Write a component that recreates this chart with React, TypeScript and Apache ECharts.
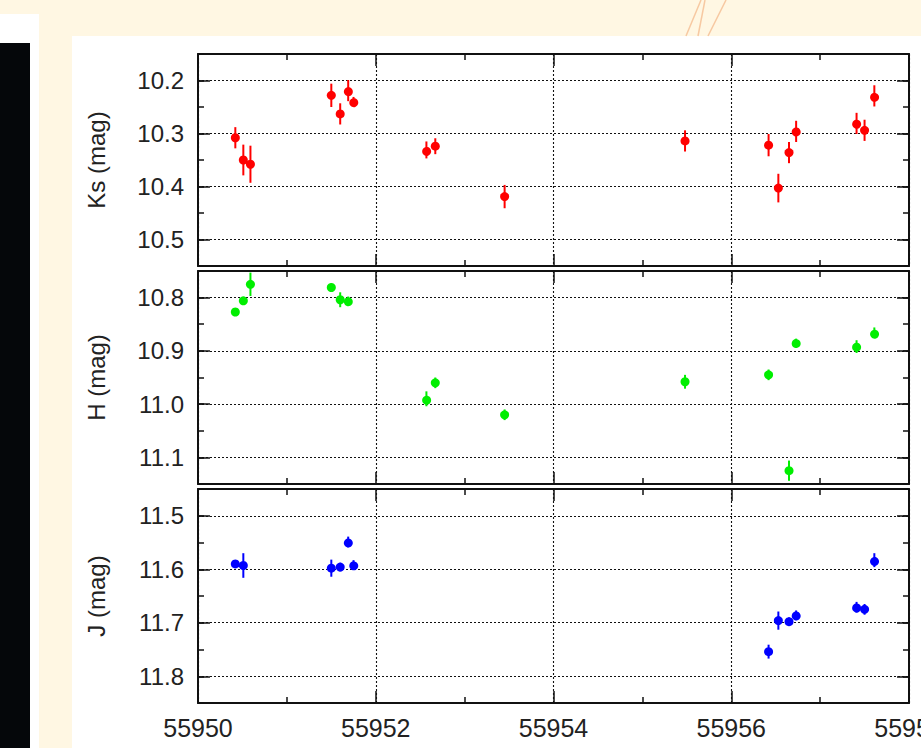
import React, { useEffect, useRef } from "react";
import * as echarts from "echarts";

// Observation epochs (MJD)
const times = [
  55950.42, 55950.51, 55950.59, 55951.5, 55951.6, 55951.69, 55951.75, 55952.57, 55952.67,
  55953.45, 55955.48, 55956.42, 55956.53, 55956.65, 55956.73, 55957.41, 55957.5, 55957.61,
];

const ksMag = [
  10.308, 10.35, 10.358, 10.228, 10.263, 10.219, 10.239, 10.331, 10.324,
  10.419, 10.314, 10.322, 10.403, 10.336, 10.296, 10.281, 10.294, 10.229,
];
const ksErr = [
  0.02, 0.029, 0.035, 0.022, 0.02, 0.02, 0.008, 0.016, 0.015,
  0.022, 0.02, 0.021, 0.027, 0.02, 0.02, 0.02, 0.02, 0.02,
];

const hMag = [
  10.827, 10.806, 10.775, 10.781, 10.804, 10.806, null, 10.99, 10.96,
  11.02, 10.958, 10.945, null, 11.125, 10.885, 10.892, null, 10.866,
];
const hErr = [
  0.007, 0.007, 0.022, 0.008, 0.014, 0.008, null, 0.014, 0.01,
  0.01, 0.013, 0.01, null, 0.019, 0.008, 0.012, null, 0.01,
];

const jMag = [
  11.59, 11.593, null, 11.598, 11.596, 11.549, 11.591, null, null,
  null, null, 11.754, 11.696, 11.698, 11.686, 11.671, 11.675, 11.583,
];
const jErr = [
  0.007, 0.023, null, 0.016, 0.008, 0.01, 0.008, null, null,
  null, null, 0.013, 0.017, 0.008, 0.009, 0.01, 0.01, 0.013,
];

const panelNames = ["Ks (mag)", "H (mag)", "J (mag)"];
const panelColors = ["#ff0000", "#00ee00", "#0000ff"];
const yMins = [10.15, 10.75, 11.45];
const yMaxs = [10.55, 11.15, 11.85];
const yMajorTicks = [
  [10.2, 10.3, 10.4, 10.5],
  [10.8, 10.9, 11.0, 11.1],
  [11.5, 11.6, 11.7, 11.8],
];
const xMin = 55950;
const xMax = 55958;
const xInterval = 2;

const FONT = "'Liberation Sans', Arial, sans-serif";
const TEXT = "#222";

export default function App() {
  const ref = useRef<HTMLDivElement>(null);

  useEffect(() => {
    if (!ref.current) return;
    const chart = echarts.init(ref.current, null, { renderer: "svg" });

    const mags = [ksMag, hMag, jMag];
    const errs = [ksErr, hErr, jErr];

    const gridBase = { left: 198, width: 711, containLabel: false, outerBoundsMode: "none" };
    const grids = [
      { ...gridBase, top: 54, height: 212 },
      { ...gridBase, top: 271, height: 213 },
      { ...gridBase, top: 489, height: 214 },
    ];

    const xAxis: any[] = [];
    const yAxis: any[] = [];
    const series: any[] = [];

    const frame = { show: true, onZero: false, lineStyle: { color: "#111", width: 2 } };
    const dashed = { show: true, lineStyle: { color: "#111", width: 1.1, type: [2, 2] } };

    for (let g = 0; g < 3; g++) {
      // bottom x axis
      xAxis.push({
        type: "value",
        gridIndex: g,
        position: "bottom",
        min: xMin,
        max: xMax,
        interval: xInterval,
        axisLine: frame,
        axisTick: { show: true, inside: true, length: 12, lineStyle: { color: "#111", width: 1.5 } },
        minorTick: { show: true, splitNumber: 2, length: 6, lineStyle: { color: "#111", width: 1.5 } },
        axisLabel: {
          show: g === 2,
          fontSize: 25,
          fontFamily: FONT,
          color: TEXT,
          margin: 12,
          formatter: (v: number) => String(v),
        },
        splitLine: dashed,
      });
      // top x axis
      xAxis.push({
        type: "value",
        gridIndex: g,
        position: "top",
        min: xMin,
        max: xMax,
        interval: xInterval,
        axisLine: frame,
        axisTick: { show: true, inside: true, length: 12, lineStyle: { color: "#111", width: 1.5 } },
        minorTick: { show: true, splitNumber: 2, length: 6, lineStyle: { color: "#111", width: 1.5 } },
        axisLabel: { show: false },
        splitLine: { show: false },
      });

      const base = {
        type: "value",
        gridIndex: g,
        min: yMins[g],
        max: yMaxs[g],
        interval: 0.05,
        inverse: true,
      };
      // left major axis with labels and grid lines
      yAxis.push({
        ...base,
        position: "left",
        name: panelNames[g],
        nameLocation: "middle",
        nameRotate: 90,
        nameGap: 90,
        nameTextStyle: { fontSize: 24, fontFamily: FONT, color: TEXT },
        axisLine: frame,
        axisTick: {
          show: true,
          inside: true,
          length: 12,
          customValues: yMajorTicks[g],
          lineStyle: { color: "#111", width: 1.5 },
        },
        axisLabel: {
          show: true,
          fontSize: 24,
          fontFamily: FONT,
          color: TEXT,
          margin: 14,
          customValues: yMajorTicks[g],
          formatter: (v: number) => v.toFixed(1),
        },
        splitLine: dashed,
      });
      // left minor ticks
      yAxis.push({
        ...base,
        position: "left",
        axisLine: { show: false },
        axisTick: { show: true, inside: true, length: 6, lineStyle: { color: "#111", width: 1.5 } },
        axisLabel: { show: false },
        splitLine: { show: false },
      });
      // right major
      yAxis.push({
        ...base,
        position: "right",
        axisLine: frame,
        axisTick: {
          show: true,
          inside: true,
          length: 12,
          customValues: yMajorTicks[g],
          lineStyle: { color: "#111", width: 1.5 },
        },
        axisLabel: { show: false },
        splitLine: { show: false },
      });
      // right minor
      yAxis.push({
        ...base,
        position: "right",
        axisLine: { show: false },
        axisTick: { show: true, inside: true, length: 6, lineStyle: { color: "#111", width: 1.5 } },
        axisLabel: { show: false },
        splitLine: { show: false },
      });

      const data: number[][] = [];
      for (let i = 0; i < times.length; i++) {
        const m = mags[g][i];
        const e = errs[g][i];
        if (m === null || m === undefined) continue;
        data.push([times[i], m as number, (e as number) || 0]);
      }
      const color = panelColors[g];
      series.push({
        type: "custom",
        xAxisIndex: g * 2,
        yAxisIndex: g * 4,
        encode: { x: 0, y: 1 },
        dimensions: ["t", "mag", "err"],
        data,
        z: 5,
        renderItem: (params: any, api: any) => {
          const x = api.value(0);
          const y = api.value(1);
          const e = api.value(2);
          const p0 = api.coord([x, y - e]);
          const p1 = api.coord([x, y + e]);
          const c = api.coord([x, y]);
          return {
            type: "group",
            children: [
              {
                type: "line",
                shape: { x1: p0[0], y1: p0[1], x2: p1[0], y2: p1[1] },
                style: { stroke: color, lineWidth: 2 },
              },
              {
                type: "circle",
                shape: { cx: c[0], cy: c[1], r: 4.5 },
                style: { fill: color },
              },
            ],
          };
        },
      });
    }

    const option: any = {
      animation: false,
      backgroundColor: "#fff7e3",
      grid: grids,
      xAxis,
      yAxis,
      series,
      graphic: {
        elements: [
          { type: "rect", z: -10, shape: { x: 0, y: 14, width: 39, height: 734 }, style: { fill: "#ffffff" } },
          { type: "rect", z: -9, shape: { x: 0, y: 43, width: 30, height: 705 }, style: { fill: "#05070a" } },
          { type: "rect", z: -10, shape: { x: 72, y: 36, width: 849, height: 712 }, style: { fill: "#ffffff" } },
          { type: "line", z: -10, shape: { x1: 686, y1: 36, x2: 701, y2: 0 }, style: { stroke: "#f7c9a2", lineWidth: 1.5 } },
          { type: "line", z: -10, shape: { x1: 698, y1: 36, x2: 705, y2: 0 }, style: { stroke: "#f7c9a2", lineWidth: 1.5 } },
          { type: "line", z: -10, shape: { x1: 708, y1: 36, x2: 726, y2: 0 }, style: { stroke: "#f7c9a2", lineWidth: 1.5 } },
        ],
      },
    };

    chart.setOption(option);
    return () => chart.dispose();
  }, []);

  return (
    <div
      ref={ref}
      style={{ position: "fixed", left: 0, top: 0, width: 921, height: 748 }}
    />
  );
}
